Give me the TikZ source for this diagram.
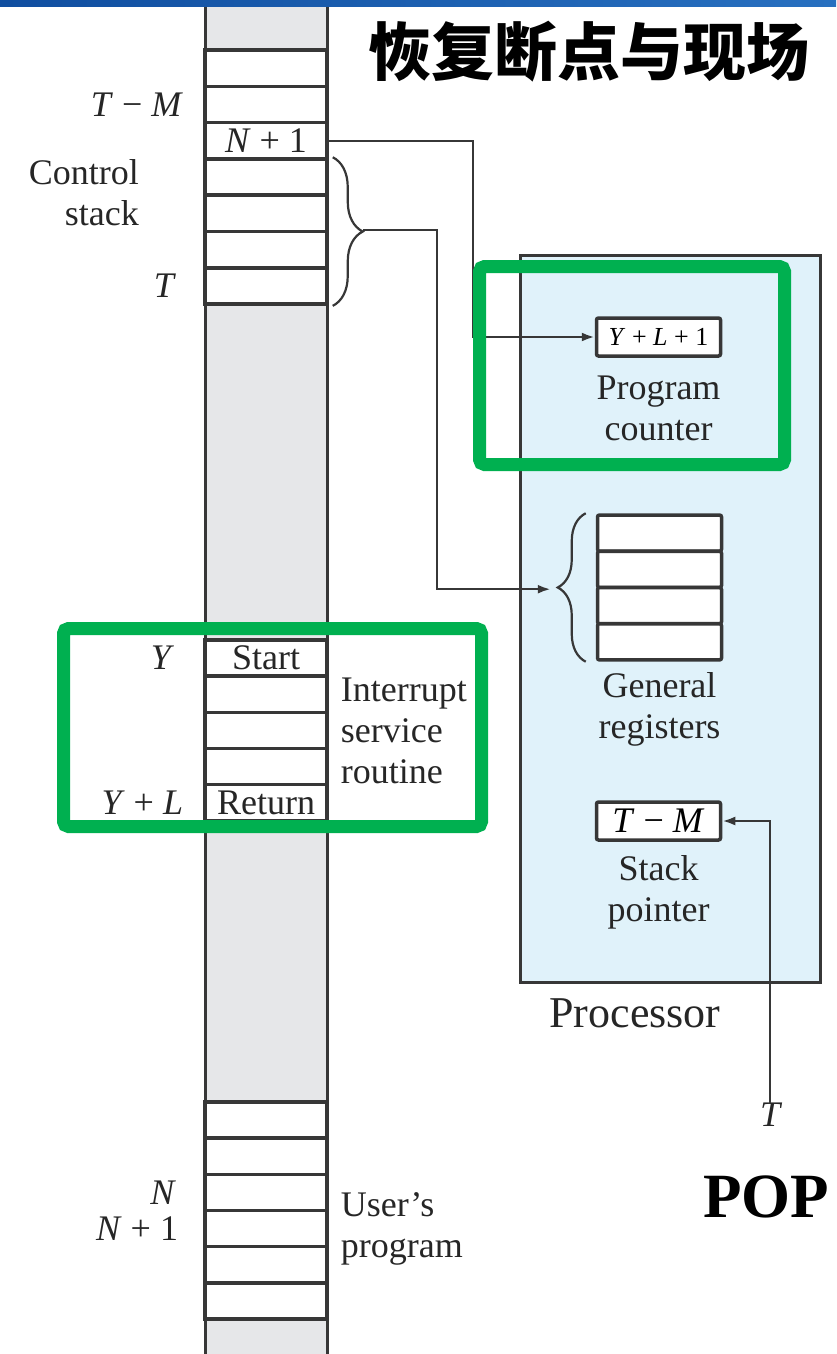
\documentclass[tikz,border=0pt]{standalone}
\usepackage{fontspec}
\setmainfont{Liberation Serif}
\newfontfamily\cjk{Noto Sans CJK SC}
\usetikzlibrary{positioning, arrows.meta, decorations.pathreplacing}

\definecolor{colgray}{RGB}{230,231,233}
\definecolor{procblue}{RGB}{224,242,250}
\definecolor{hlgreen}{RGB}{0,176,80}
\definecolor{bardark}{RGB}{16,78,160}
\definecolor{barlight}{RGB}{40,112,192}
\definecolor{inkgray}{RGB}{55,55,55}

\tikzset{
  cell/.style={draw=inkgray, line width=3.5pt, fill=white, minimum width=122pt,
    minimum height=36.2pt, inner sep=0pt},
  reg/.style={cell, minimum width=124pt, line width=3.5pt, rounded corners=2pt},
  valbox/.style={reg, minimum height=38pt},
  lbl/.style={font=\fontsize{36}{41}\selectfont, text=black!85, inner sep=0pt},
  conn/.style={draw=inkgray, line width=2.5pt},
  arr/.style={conn, -{Latex[length=13pt,width=9pt]}},
  brc/.style={decorate, draw=inkgray, line width=2.2pt},
  hlbox/.style={draw=hlgreen, line width=13pt, rounded corners=5pt},
}

\begin{document}
\begin{tikzpicture}[x=1pt, y=-1pt]
    \useasboundingbox (0,0) rectangle (836,1354);

    % Blue bar on top
    \shade[left color=bardark, right color=barlight] (0,0) rectangle (836,7);

    % Memory column
    \fill[colgray] (205,7) rectangle (327,1354);
    \draw[inkgray, line width=3pt] (205,7) -- (205,1354);
    \draw[inkgray, line width=3pt] (327,7) -- (327,1354);

    % Control stack cells
    \foreach \i in {0,...,6}
        \node[cell] (ctl\i) at (266, 68.2+36.3*\i) {};
    \node[lbl] (ctlval) at (ctl2) {\textit{N} + 1};

    % Interrupt service routine cells
    \foreach \i in {0,...,4}
        \node[cell] (isr\i) at (266, 658+36.2*\i) {};
    \node[lbl] (isrstart) at (isr0) {Start};
    \node[lbl] (isrret) at (isr4) {Return};

    % User's program cells
    \foreach \i in {0,...,5}
        \node[cell] (usr\i) at (266, 1120+36.2*\i) {};

    % Processor
    \node[draw=inkgray, line width=3pt, fill=procblue, minimum width=300pt,
        minimum height=727pt, inner sep=0pt] (proc) at (670,618.5) {};
    \node[lbl, font=\fontsize{44}{50}\selectfont] (proclbl) at (635,1013) {Processor};

    % Program counter
    \node[valbox, font=\fontsize{26}{30}\selectfont] (pc) at (658.5,337) {\textit{Y} + \textit{L} + 1};
    \node[lbl, below=18pt of pc, align=center] (pclbl) {Program\\counter};

    % General registers
    \foreach \i in {0,...,3}
        \node[reg] (gr\i) at (659.5, 533.1+36.25*\i) {};
    \node[lbl, below=11pt of gr3, align=center] (grlbl) {General\\registers};
    \draw[brc, decoration={brace, amplitude=28pt}]
        ([xshift=-10pt]gr3.south west) -- ([xshift=-10pt]gr0.north west);

    % Stack pointer
    \node[valbox, font=\fontsize{36}{40}\selectfont] (sp) at (658.5,821) {\textit{T} − \textit{M}};
    \node[lbl, below=14pt of sp, align=center] (splbl) {Stack\\pointer};

    % Brace over the saved registers
    \draw[brc, decoration={brace, amplitude=30pt}]
        ([xshift=4pt]ctl3.north east) -- ([xshift=4pt]ctl6.south east);
    \coordinate (ctltip) at ([xshift=34pt]ctl5.north east);
    \coordinate (grtip) at ([xshift=-45pt]gr1.south west);

    % Connectors
    \draw[arr] (ctl2.east) -- ++(144,0) |- (pc.west);
    \draw[arr] (ctltip) -- ++(74,0) |- (grtip);
    \node[lbl, font=\fontsize{36}{41}\itshape] (tin) at (770,1115) {T};
    \draw[arr] (tin.north) |- (sp.east);

    % Left labels
    \node[lbl, left=20pt of ctl1] (tmlbl) {\textit{T} − \textit{M}};
    \node[lbl, left=27pt of ctl6] (tlbl) {\textit{T}};
    \node[lbl, align=right, anchor=east] (ctllbl) at (139,193) {Control\\stack};
    \node[lbl, left=29pt of isr0] (ylbl) {\textit{Y}};
    \node[lbl, left=20pt of isr4] (yllbl) {\textit{Y} + \textit{L}};
    \node[lbl, left=27pt of usr2] (nlbl) {\textit{N}};
    \node[lbl, left=25pt of usr3] (n1lbl) {\textit{N} + 1};

    % Right labels
    \node[lbl, right=12pt of isr2, align=left] (isrlbl) {Interrupt\\service\\routine};
    \node[lbl, right=12pt of usr3, align=left] (usrlbl) {User's\\program};

    % Highlight boxes
    \draw[hlbox] (479.5,266.5) rectangle (784.5,464.5);
    \draw[hlbox] (63.5,628.5) rectangle (481.5,826.5);

    % Title and POP
    \node[inner sep=0pt, font=\cjk\bfseries\fontsize{63}{63}\selectfont] (title) at (589,52) {恢复断点与现场};
    \node[inner sep=0pt, font=\bfseries\fontsize{63}{63}\selectfont] (pop) at (766,1197) {POP};
\end{tikzpicture}
\end{document}
